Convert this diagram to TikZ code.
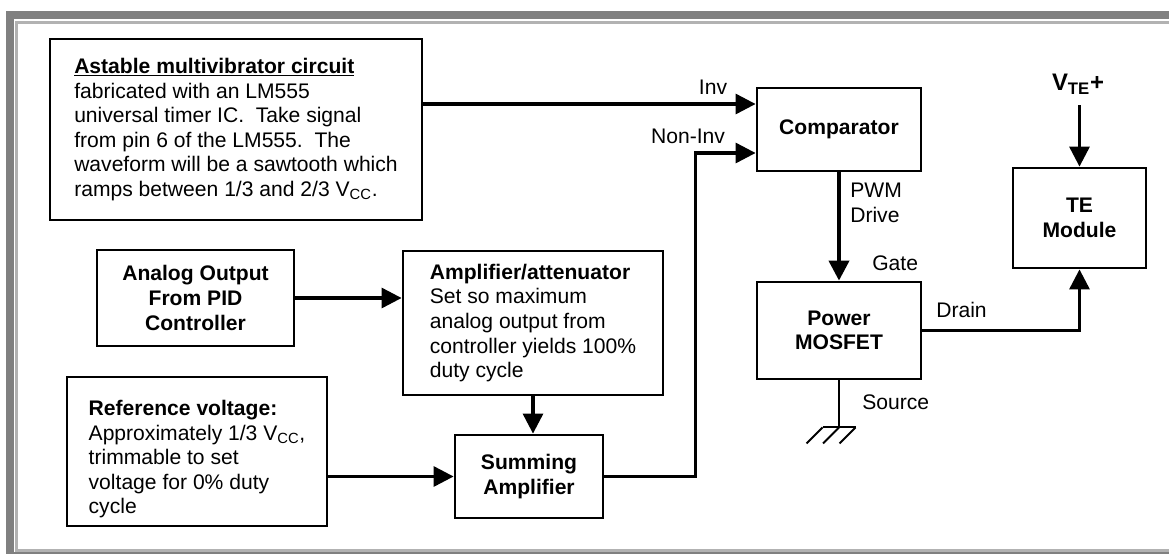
\documentclass[tikz,border=0pt]{standalone}
\usepackage{fontspec}
\setmainfont{Liberation Sans}
\usetikzlibrary{arrows.meta, positioning, calc}
\usepackage{xcolor}
\definecolor{framegray}{RGB}{128,128,128}
\definecolor{linegray}{RGB}{178,178,178}

\begin{document}
\begin{tikzpicture}[
  font=\fontsize{15pt}{17.5pt}\selectfont,
  box/.style={draw, line width=2pt, font=\fontsize{15pt}{17.5pt}\selectfont\bfseries,
  align=center, inner sep=0pt},
  txtbox/.style={draw, line width=2pt, align=left, inner sep=0pt},
  arr/.style={-{Triangle[length=0.5cm,width=0.5cm]}, line width=2.2pt},
  gndline/.style={line width=1.4pt},
  lbl/.style={inner sep=0pt}
]
\useasboundingbox (0,0) rectangle (29.225,-13.85);
\clip (0,0) rectangle (29.225,-13.85);
% frame
\draw[line width=0.2cm, framegray] (0.2375,-0.375) rectangle (30,-13.9);
\draw[line width=0.075cm, linegray] (0.4125,-0.5625) rectangle (30,-13.7625);

% blocks
\node[txtbox, minimum width=9.3cm, minimum height=4.525cm] (astable) at (5.9,-3.2375)
  {\underline{\textbf{Astable multivibrator circuit}}\\
   fabricated with an LM555\\
   universal timer IC.\ \ Take signal\\
   from pin 6 of the LM555.\ \ The\\
   waveform will be a sawtooth which\\
   ramps between 1/3 and 2/3 V\textsubscript{CC}.};
\node[box, minimum width=4.1cm, minimum height=2.075cm] (comp) at (20.975,-3.2375) {Comparator};
\node[box, minimum width=4.1cm, minimum height=2.425cm] (mosfet) at (20.975,-8.2625) {Power\\MOSFET};
\node[box, minimum width=3.325cm, minimum height=2.5cm] (te) at (26.9875,-5.45) {TE\\Module};
\node[box, minimum width=4.925cm, minimum height=2.4cm] (pid) at (4.8875,-7.45)
  {Analog Output\\From PID\\Controller};
\node[txtbox, minimum width=6.5cm, minimum height=3.6cm] (amp) at (13.325,-8.075)
  {\textbf{Amplifier/attenuator}\\
   Set so maximum\\
   analog output from\\
   controller yields 100\%\\
   duty cycle};
\node[box, minimum width=3.7cm, minimum height=2.075cm] (sum) at (13.225,-11.9125)
  {Summing\\Amplifier};
\node[txtbox, minimum width=6.5cm, minimum height=3.725cm] (ref) at (4.925,-11.2875)
  {\rule{0pt}{22pt}\textbf{Reference voltage:}\\
   Approximately 1/3 V\textsubscript{CC},\\
   trimmable to set\\
   voltage for 0\% duty\\
   cycle};

% labels
\node[lbl] (invlbl) at (17.825,-2.175) {Inv};
\node[lbl] (noninvlbl) at (17.2,-3.4) {Non-Inv};
\node[lbl, anchor=north west, align=left] (pwmlbl) at (21.25,-4.575) {PWM\\Drive};
\node[lbl, anchor=west] (gatelbl) at (21.8,-6.575) {Gate};
\node[lbl, anchor=west] (drainlbl) at (23.4,-7.75) {Drain};
\node[lbl, anchor=west] (sourcelbl) at (21.55,-10.05) {Source};
\node[lbl, font=\fontsize{17pt}{19pt}\selectfont\bfseries] (vte) at (26.95,-2.1) {V\textsubscript{TE}+};

% connections
\coordinate (inv) at ([yshift=0.6375cm]comp.west);
\coordinate (noninv) at ([yshift=-0.5875cm]comp.west);
\draw[arr] (astable.east |- inv) -- (inv);
\draw[arr] (sum.east) -- ++(2.275,0) |- (noninv);
\draw[arr, line width=2.8pt] (comp.south) -- (mosfet.north);
\draw[arr] (mosfet.east) -| (te.south);
\draw[arr] (te.north |- 0,-2.625) -- (te.north);
\draw[arr] (pid.east) -- (pid.east -| amp.west);
\draw[arr] (amp.south) -- (amp.south |- sum.north);
\draw[arr] (ref.east |- sum.west) -- (sum.west);

% ground at source
\draw[gndline] (mosfet.south) -- ++(0,-1.175) coordinate (gnd);
\draw[gndline] ([xshift=-0.4125cm]gnd) -- ([xshift=0.4125cm]gnd);
\foreach \dx in {-0.4125,0,0.4125}
  \draw[gndline] ([xshift=\dx cm]gnd) -- ++(-0.4,-0.4);
\end{tikzpicture}
\end{document}
